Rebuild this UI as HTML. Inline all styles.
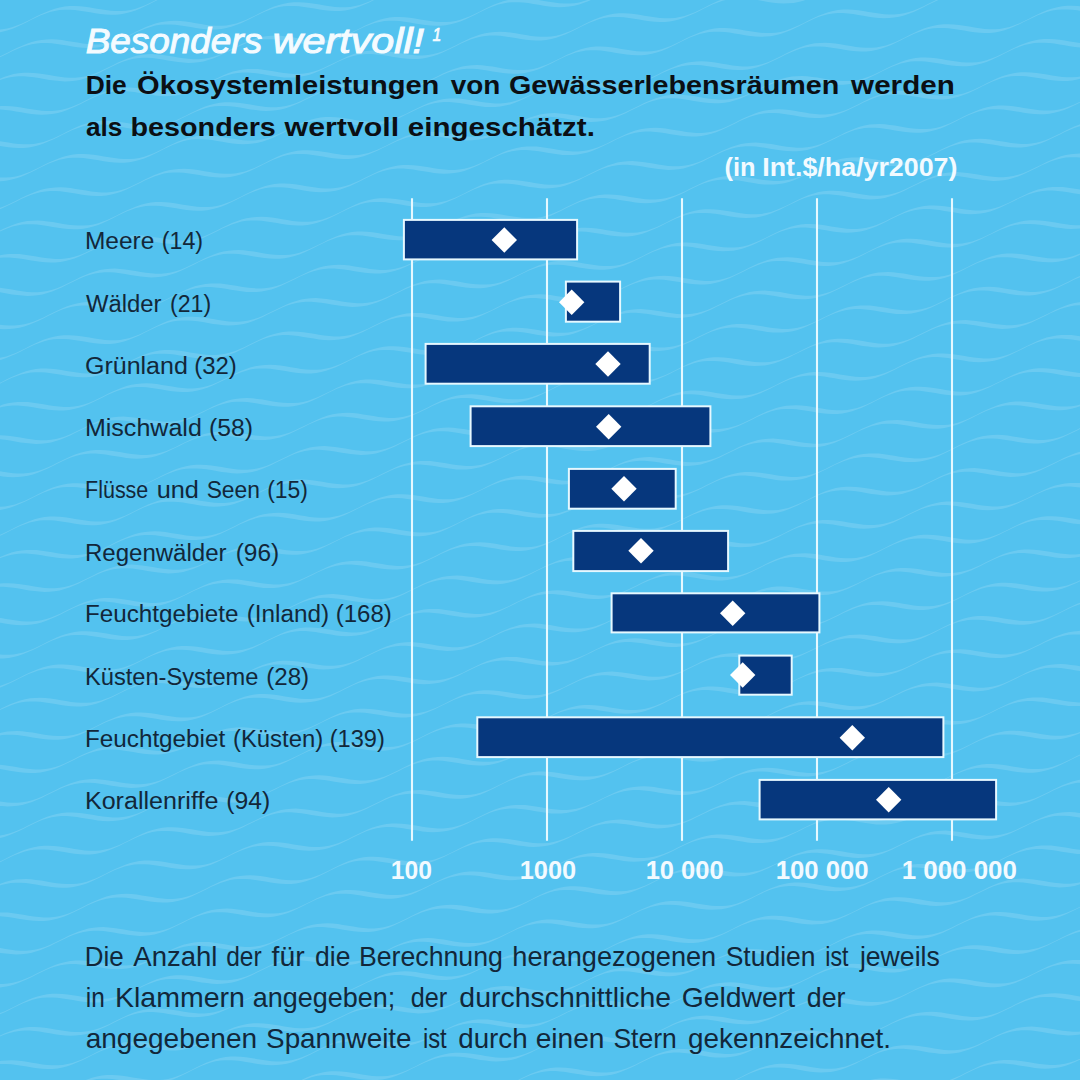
<!DOCTYPE html>
<html><head><meta charset="utf-8"><title>Besonders wertvoll</title>
<style>
html,body{margin:0;padding:0;background:#53C2EF;}
body{width:1080px;height:1080px;overflow:hidden;font-family:"Liberation Sans",sans-serif;}
svg{display:block}
text{font-family:"Liberation Sans",sans-serif;}
</style></head><body>
<svg width="1080" height="1080" viewBox="0 0 1080 1080">
<defs><path id="wv" d="M-157.3 28.5 L-152.3 28.1 L-147.4 27.3 L-142.6 26.1 L-137.8 24.5 L-133.0 22.6 L-128.3 20.4 L-123.6 18.1 L-118.9 15.7 L-114.2 13.4 L-109.4 11.3 L-104.7 9.3 L-99.8 7.7 L-94.9 6.4 L-90.0 5.5 L-84.9 5.0 L-79.9 4.9 L-74.7 5.2 L-69.6 5.7 L-64.4 6.4 L-59.2 7.3 L-54.0 8.2 L-48.9 9.0 L-43.8 9.6 L-38.7 10.0 L-33.7 10.0 L-28.7 9.6 L-23.8 8.8 L-19.0 7.6 L-14.2 6.0 L-9.4 4.0 L-4.7 1.9 L0.0 -0.5 L4.7 -2.8 L9.4 -5.1 L14.2 -7.3 L19.0 -9.2 L23.8 -10.9 L28.7 -12.2 L33.7 -13.1 L38.7 -13.5 L43.8 -13.6 L48.9 -13.4 L54.0 -12.8 L59.2 -12.1 L64.4 -11.2 L69.6 -10.3 L74.7 -9.5 L79.9 -8.9 L84.9 -8.6 L90.0 -8.6 L94.9 -9.0 L99.8 -9.8 L104.7 -11.0 L109.4 -12.6 L114.2 -14.5 L118.9 -16.7 L123.6 -19.0 L128.3 -21.4 L133.0 -23.7 L137.8 -25.8 L142.6 -27.8 L147.4 -29.4 L152.3 -30.7 L157.3 -31.6 L162.3 -32.1 L167.4 -32.2 L172.5 -31.9 L177.7 -31.4 L182.8 -30.6 L188.0 -29.8 L193.2 -28.9 L198.4 -28.1 L203.5 -27.5 L208.5 -27.1 L213.6 -27.1 L218.5 -27.5 L223.4 -28.3 L228.3 -29.5 L233.1 -31.1 L237.8 -33.0 L242.5 -35.2 L247.2 -37.5 L251.9 -39.9 L256.7 -42.2 L261.4 -44.4 L266.2 -46.3 L271.0 -48.0 L275.9 -49.2 L280.9 -50.1 L285.9 -50.6 L291.0 -50.7 L296.1 -50.5 L301.3 -49.9 L306.4 -49.2 L311.6 -48.3 L316.8 -47.4 L322.0 -46.6 L327.1 -46.0 L332.2 -45.7 L337.2 -45.7 L342.1 -46.1 L347.0 -46.9 L351.9 -48.1 L356.7 -49.7 L361.4 -51.6 L366.1 -53.8 L370.9 -56.1 L375.6 -58.4 L380.3 -60.7 L385.0 -62.9 L389.8 -64.9 L394.7 -66.5 L399.6 -67.8 L404.5 -68.7 L409.5 -69.2 L414.6 -69.3 L419.7 -69.0 L424.9 -68.5 L430.1 -67.7 L435.3 -66.9 L440.4 -66.0 L445.6 -65.2 L450.7 -64.6 L455.8 -64.2 L460.8 -64.2 L465.8 -64.6 L470.7 -65.4 L475.5 -66.6 L480.3 -68.2 L485.0 -70.1 L489.8 -72.3 L494.5 -74.6 L499.2 -77.0 L503.9 -79.3 L508.6 -81.5 L513.4 -83.4 L518.3 -85.0 L523.2 -86.3 L528.1 -87.2 L533.2 -87.7 L538.2 -87.8 L543.3 -87.6 L548.5 -87.0 L553.7 -86.3 L558.9 -85.4 L564.0 -84.5 L569.2 -83.7 L574.3 -83.1 L579.4 -82.8 L584.4 -82.8 L589.4 -83.1 L594.3 -83.9 L599.1 -85.2 L603.9 -86.8 L608.7 -88.7 L613.4 -90.8 L618.1 -93.2 L622.8 -95.5 L627.5 -97.8 L632.3 -100.0 L637.0 -101.9 L641.9 -103.6 L646.8 -104.9 L651.8 -105.8 L656.8 -106.3 L661.8 -106.4 L667.0 -106.1 L672.1 -105.6 L677.3 -104.8 L682.5 -103.9 L687.7 -103.1 L692.8 -102.3 L697.9 -101.6 L703.0 -101.3 L708.0 -101.3 L713.0 -101.7 L717.9 -102.5 L722.7 -103.7 L727.5 -105.3 L732.3 -107.2 L737.0 -109.4 L741.7 -111.7 L746.4 -114.1 L751.1 -116.4 L755.9 -118.5 L760.7 -120.5 L765.5 -122.1 L770.4 -123.4 L775.4 -124.3 L780.4 -124.8 L785.5 -124.9 L790.6 -124.6 L795.7 -124.1 L800.9 -123.4 L806.1 -122.5 L811.3 -121.6 L816.4 -120.8 L821.6 -120.2 L826.6 -119.8 L831.7 -119.8 L836.6 -120.2 L841.5 -121.0 L846.4 -122.2 L851.1 -123.8 L855.9 -125.8 L860.6 -127.9 L865.3 -130.2 L870.0 -132.6 L874.7 -134.9 L879.5 -137.1 L884.3 -139.0 L889.1 -140.7 L894.0 -142.0 L899.0 -142.9 L904.0 -143.3 L909.1 -143.4 L914.2 -143.2 L919.4 -142.6 L924.5 -141.9 L929.7 -141.0 L934.9 -140.1 L940.1 -139.3 L945.2 -138.7 L950.3 -138.4 L955.3 -138.4 L960.2 -138.8 L965.1 -139.6 L970.0 -140.8 L974.8 -142.4 L979.5 -144.3 L984.2 -146.5 L988.9 -148.8 L993.6 -151.2 L998.4 -153.5 L1003.1 -155.6 L1007.9 -157.6 L1012.7 -159.2 L1017.6 -160.5 L1022.6 -161.4 L1027.6 -161.9 L1032.7 -162.0 L1037.8 -161.7 L1043.0 -161.2 L1048.2 -160.4 L1053.3 -159.6 L1058.5 -158.7 L1063.7 -157.9 L1068.8 -157.3 L1073.9 -156.9 L1078.9 -156.9 L1083.8 -157.3 L1088.7 -158.1 L1093.6 -159.3 L1098.4 -160.9 L1103.1 -162.8 L1107.8 -165.0 L1112.6 -167.3 L1117.3 -169.7 L1122.0 -172.0 L1126.7 -174.2 L1131.5 -176.1 L1136.4 -177.8 L1141.3 -179.0 L1146.2 -179.9 L1151.2 -180.4 L1156.3 -180.5 L1161.4 -180.3 L1166.6 -179.7 L1171.8 -179.0 L1177.0 -178.1 L1182.1 -177.2 L1187.3 -176.4 L1192.4 -175.8 L1197.5 -175.5 L1202.5 -175.5 L1207.5 -175.9 L1212.4 -176.7 L1217.2 -177.9 L1222.0 -179.5 L1226.7 -181.4 L1231.5 -183.6 L1236.2 -185.9 L1240.9 -188.2 L1245.6 -190.5 L1250.3 -192.7 L1255.1 -194.7 L1260.0 -196.3 L1264.9 -197.6 L1269.8 -198.5 L1274.9 -199.0 L1279.9 -199.1 L1285.1 -198.8 L1290.2 -198.3 L1295.4 -197.5 L1300.6 -196.7 L1305.8 -195.8 L1310.9 -195.0 L1316.0 -194.4 L1321.1 -194.0 L1326.1 -194.0 L1331.1 -194.4 L1331.1 -191.8 L1326.1 -190.9 L1321.1 -190.4 L1316.0 -190.3 L1310.9 -190.6 L1305.8 -191.1 L1300.6 -191.9 L1295.4 -192.7 L1290.2 -193.6 L1285.1 -194.4 L1279.9 -195.0 L1274.9 -195.4 L1269.8 -195.4 L1264.9 -195.0 L1260.0 -194.2 L1255.1 -193.0 L1250.3 -191.4 L1245.6 -189.5 L1240.9 -187.3 L1236.2 -185.0 L1231.5 -182.6 L1226.7 -180.3 L1222.0 -178.1 L1217.2 -176.2 L1212.4 -174.5 L1207.5 -173.3 L1202.5 -172.4 L1197.5 -171.9 L1192.4 -171.8 L1187.3 -172.0 L1182.1 -172.6 L1177.0 -173.3 L1171.8 -174.2 L1166.6 -175.1 L1161.4 -175.9 L1156.3 -176.5 L1151.2 -176.8 L1146.2 -176.8 L1141.3 -176.5 L1136.4 -175.6 L1131.5 -174.4 L1126.7 -172.8 L1122.0 -170.9 L1117.3 -168.8 L1112.6 -166.4 L1107.8 -164.1 L1103.1 -161.8 L1098.4 -159.6 L1093.6 -157.6 L1088.7 -156.0 L1083.8 -154.7 L1078.9 -153.8 L1073.9 -153.3 L1068.8 -153.2 L1063.7 -153.5 L1058.5 -154.0 L1053.3 -154.8 L1048.2 -155.7 L1043.0 -156.5 L1037.8 -157.3 L1032.7 -158.0 L1027.6 -158.3 L1022.6 -158.3 L1017.6 -157.9 L1012.7 -157.1 L1007.9 -155.9 L1003.1 -154.3 L998.4 -152.4 L993.6 -150.2 L988.9 -147.9 L984.2 -145.5 L979.5 -143.2 L974.8 -141.0 L970.0 -139.1 L965.1 -137.5 L960.2 -136.2 L955.3 -135.3 L950.3 -134.8 L945.2 -134.7 L940.1 -134.9 L934.9 -135.5 L929.7 -136.2 L924.5 -137.1 L919.4 -138.0 L914.2 -138.8 L909.1 -139.4 L904.0 -139.8 L899.0 -139.8 L894.0 -139.4 L889.1 -138.6 L884.3 -137.4 L879.5 -135.8 L874.7 -133.8 L870.0 -131.7 L865.3 -129.3 L860.6 -127.0 L855.9 -124.7 L851.1 -122.5 L846.4 -120.6 L841.5 -118.9 L836.6 -117.6 L831.7 -116.7 L826.6 -116.3 L821.6 -116.2 L816.4 -116.4 L811.3 -116.9 L806.1 -117.7 L800.9 -118.6 L795.7 -119.5 L790.6 -120.3 L785.5 -120.9 L780.4 -121.2 L775.4 -121.2 L770.4 -120.8 L765.5 -120.0 L760.7 -118.8 L755.9 -117.2 L751.1 -115.3 L746.4 -113.1 L741.7 -110.8 L737.0 -108.4 L732.3 -106.1 L727.5 -104.0 L722.7 -102.0 L717.9 -100.4 L713.0 -99.1 L708.0 -98.2 L703.0 -97.7 L697.9 -97.6 L692.8 -97.9 L687.7 -98.4 L682.5 -99.2 L677.3 -100.0 L672.1 -100.9 L667.0 -101.7 L661.8 -102.3 L656.8 -102.7 L651.8 -102.7 L646.8 -102.3 L641.9 -101.5 L637.0 -100.3 L632.3 -98.7 L627.5 -96.8 L622.8 -94.6 L618.1 -92.3 L613.4 -89.9 L608.7 -87.6 L603.9 -85.4 L599.1 -83.5 L594.3 -81.8 L589.4 -80.6 L584.4 -79.7 L579.4 -79.2 L574.3 -79.1 L569.2 -79.3 L564.0 -79.9 L558.9 -80.6 L553.7 -81.5 L548.5 -82.4 L543.3 -83.2 L538.2 -83.8 L533.2 -84.1 L528.1 -84.1 L523.2 -83.7 L518.3 -82.9 L513.4 -81.7 L508.6 -80.1 L503.9 -78.2 L499.2 -76.0 L494.5 -73.7 L489.8 -71.4 L485.0 -69.0 L480.3 -66.9 L475.5 -64.9 L470.7 -63.3 L465.8 -62.0 L460.8 -61.1 L455.8 -60.6 L450.7 -60.5 L445.6 -60.8 L440.4 -61.3 L435.3 -62.1 L430.1 -62.9 L424.9 -63.8 L419.7 -64.6 L414.6 -65.2 L409.5 -65.6 L404.5 -65.6 L399.6 -65.2 L394.7 -64.4 L389.8 -63.2 L385.0 -61.6 L380.3 -59.7 L375.6 -57.5 L370.9 -55.2 L366.1 -52.8 L361.4 -50.5 L356.7 -48.3 L351.9 -46.4 L347.0 -44.7 L342.1 -43.5 L337.2 -42.6 L332.2 -42.1 L327.1 -42.0 L322.0 -42.2 L316.8 -42.8 L311.6 -43.5 L306.4 -44.4 L301.3 -45.3 L296.1 -46.1 L291.0 -46.7 L285.9 -47.0 L280.9 -47.0 L275.9 -46.7 L271.0 -45.9 L266.2 -44.6 L261.4 -43.0 L256.7 -41.1 L251.9 -39.0 L247.2 -36.6 L242.5 -34.3 L237.8 -32.0 L233.1 -29.8 L228.3 -27.8 L223.4 -26.2 L218.5 -24.9 L213.6 -24.0 L208.5 -23.5 L203.5 -23.4 L198.4 -23.7 L193.2 -24.2 L188.0 -25.0 L182.8 -25.9 L177.7 -26.7 L172.5 -27.5 L167.4 -28.2 L162.3 -28.5 L157.3 -28.5 L152.3 -28.1 L147.4 -27.3 L142.6 -26.1 L137.8 -24.5 L133.0 -22.6 L128.3 -20.4 L123.6 -18.1 L118.9 -15.7 L114.2 -13.4 L109.4 -11.3 L104.7 -9.3 L99.8 -7.7 L94.9 -6.4 L90.0 -5.5 L84.9 -5.0 L79.9 -4.9 L74.7 -5.2 L69.6 -5.7 L64.4 -6.4 L59.2 -7.3 L54.0 -8.2 L48.9 -9.0 L43.8 -9.6 L38.7 -10.0 L33.7 -10.0 L28.7 -9.6 L23.8 -8.8 L19.0 -7.6 L14.2 -6.0 L9.4 -4.0 L4.7 -1.9 L0.0 0.5 L-4.7 2.8 L-9.4 5.1 L-14.2 7.3 L-19.0 9.2 L-23.8 10.9 L-28.7 12.2 L-33.7 13.1 L-38.7 13.5 L-43.8 13.6 L-48.9 13.4 L-54.0 12.8 L-59.2 12.1 L-64.4 11.2 L-69.6 10.3 L-74.7 9.5 L-79.9 8.9 L-84.9 8.6 L-90.0 8.6 L-94.9 9.0 L-99.8 9.8 L-104.7 11.0 L-109.4 12.6 L-114.2 14.5 L-118.9 16.7 L-123.6 19.0 L-128.3 21.4 L-133.0 23.7 L-137.8 25.8 L-142.6 27.8 L-147.4 29.4 L-152.3 30.7 L-157.3 31.6Z"/></defs>
<rect width="1080" height="1080" fill="#53C2EF"/>
<g fill="#ffffff" fill-opacity="0.14">
<use href="#wv" x="-92.7" y="38.2"/>
<use href="#wv" x="-115.7" y="71.5"/>
<use href="#wv" x="-15.1" y="86.3"/>
<use href="#wv" x="-38.1" y="119.6"/>
<use href="#wv" x="-61.1" y="152.9"/>
<use href="#wv" x="-84.1" y="186.2"/>
<use href="#wv" x="-107.1" y="219.5"/>
<use href="#wv" x="-6.5" y="234.2"/>
<use href="#wv" x="-29.5" y="267.5"/>
<use href="#wv" x="-52.5" y="300.8"/>
<use href="#wv" x="-75.5" y="334.1"/>
<use href="#wv" x="-98.5" y="367.4"/>
<use href="#wv" x="-121.5" y="400.7"/>
<use href="#wv" x="-20.9" y="415.5"/>
<use href="#wv" x="-43.9" y="448.8"/>
<use href="#wv" x="-66.9" y="482.1"/>
<use href="#wv" x="-89.9" y="515.4"/>
<use href="#wv" x="-112.9" y="548.7"/>
<use href="#wv" x="-12.3" y="563.5"/>
<use href="#wv" x="-35.3" y="596.8"/>
<use href="#wv" x="-58.3" y="630.1"/>
<use href="#wv" x="-81.3" y="663.4"/>
<use href="#wv" x="-104.3" y="696.7"/>
<use href="#wv" x="-3.6" y="711.4"/>
<use href="#wv" x="-26.6" y="744.7"/>
<use href="#wv" x="-49.6" y="778.0"/>
<use href="#wv" x="-72.6" y="811.3"/>
<use href="#wv" x="-95.6" y="844.6"/>
<use href="#wv" x="-118.6" y="877.9"/>
<use href="#wv" x="-18.0" y="892.7"/>
<use href="#wv" x="-41.0" y="926.0"/>
<use href="#wv" x="-64.0" y="959.3"/>
<use href="#wv" x="-87.0" y="992.6"/>
<use href="#wv" x="-110.0" y="1025.9"/>
<use href="#wv" x="-9.4" y="1040.6"/>
<use href="#wv" x="-32.4" y="1073.9"/>
<use href="#wv" x="-55.4" y="1107.2"/>
<use href="#wv" x="-78.4" y="1140.5"/>
<use href="#wv" x="-101.4" y="1173.8"/>
<use href="#wv" x="-0.8" y="1188.6"/>
<use href="#wv" x="-23.8" y="1221.9"/>
<use href="#wv" x="-46.8" y="1255.2"/>
</g>
<g stroke="#E6F8FF" stroke-width="2.1">
<line x1="412" y1="198.3" x2="412" y2="840.7"/>
<line x1="547" y1="198.3" x2="547" y2="840.7"/>
<line x1="682" y1="198.3" x2="682" y2="840.7"/>
<line x1="817" y1="198.3" x2="817" y2="840.7"/>
<line x1="952" y1="198.3" x2="952" y2="840.7"/>
</g>
<g fill="#06377D" stroke="#E6F8FF" stroke-width="2">
<rect x="403.90" y="219.90" width="173.20" height="39.50"/>
<rect x="565.90" y="281.60" width="54.20" height="40.10"/>
<rect x="425.60" y="343.90" width="224.10" height="39.80"/>
<rect x="470.60" y="406.30" width="239.80" height="39.80"/>
<rect x="568.90" y="468.90" width="106.80" height="39.80"/>
<rect x="573.30" y="530.90" width="154.80" height="40.20"/>
<rect x="611.60" y="593.30" width="207.80" height="39.10"/>
<rect x="739.30" y="655.60" width="52.40" height="39.10"/>
<rect x="477.30" y="717.30" width="466.10" height="39.80"/>
<rect x="759.60" y="779.90" width="236.50" height="39.50"/>
</g>
<g fill="#ffffff">
<path d="M491.6 240.0L504.3 227.3L517.0 240.0L504.3 252.7Z"/>
<path d="M559.0 302.3L571.7 289.6L584.4 302.3L571.7 315.0Z"/>
<path d="M595.3 364.0L608.0 351.3L620.7 364.0L608.0 376.7Z"/>
<path d="M596.0 426.7L608.7 414.0L621.4 426.7L608.7 439.4Z"/>
<path d="M611.3 488.7L624.0 476.0L636.7 488.7L624.0 501.4Z"/>
<path d="M628.3 550.7L641.0 538.0L653.7 550.7L641.0 563.4Z"/>
<path d="M720.0 613.3L732.7 600.6L745.4 613.3L732.7 626.0Z"/>
<path d="M730.0 675.0L742.7 662.3L755.4 675.0L742.7 687.7Z"/>
<path d="M839.6 737.7L852.3 725.0L865.0 737.7L852.3 750.4Z"/>
<path d="M876.0 799.7L888.7 787.0L901.4 799.7L888.7 812.4Z"/>
</g>
<text x="85.65" y="52.5" font-size="35" font-style="italic" fill="#F4FBFF" stroke="#F4FBFF" stroke-width="1.0" textLength="176.48" lengthAdjust="spacingAndGlyphs">Besonders</text>
<text x="272.82" y="52.5" font-size="35" font-style="italic" fill="#F4FBFF" stroke="#F4FBFF" stroke-width="1.0" textLength="151.25" lengthAdjust="spacingAndGlyphs">wertvoll!</text>
<text x="432.50" y="40.6" font-size="19" font-style="italic" fill="#F4FBFF" stroke="#F4FBFF" stroke-width="0.7" textLength="8.81" lengthAdjust="spacingAndGlyphs">1</text>
<text x="85.71" y="94.3" font-size="26.6" font-weight="bold" fill="#0B0F14"  textLength="41.08" lengthAdjust="spacingAndGlyphs">Die</text>
<text x="137.11" y="94.3" font-size="26.6" font-weight="bold" fill="#0B0F14"  textLength="302.25" lengthAdjust="spacingAndGlyphs">Ökosystemleistungen</text>
<text x="450.70" y="94.3" font-size="26.6" font-weight="bold" fill="#0B0F14"  textLength="49.61" lengthAdjust="spacingAndGlyphs">von</text>
<text x="508.92" y="94.3" font-size="26.6" font-weight="bold" fill="#0B0F14"  textLength="330.42" lengthAdjust="spacingAndGlyphs">Gewässerlebensräumen</text>
<text x="851.11" y="94.3" font-size="26.6" font-weight="bold" fill="#0B0F14"  textLength="103.67" lengthAdjust="spacingAndGlyphs">werden</text>
<text x="86.00" y="136.3" font-size="26.6" font-weight="bold" fill="#0B0F14"  textLength="36.38" lengthAdjust="spacingAndGlyphs">als</text>
<text x="130.52" y="136.3" font-size="26.6" font-weight="bold" fill="#0B0F14"  textLength="145.33" lengthAdjust="spacingAndGlyphs">besonders</text>
<text x="284.64" y="136.3" font-size="26.6" font-weight="bold" fill="#0B0F14"  textLength="114.44" lengthAdjust="spacingAndGlyphs">wertvoll</text>
<text x="407.89" y="136.3" font-size="26.6" font-weight="bold" fill="#0B0F14"  textLength="187.05" lengthAdjust="spacingAndGlyphs">eingeschätzt.</text>
<text x="724.59" y="176.2" font-size="25.3" font-weight="bold" fill="#F2FAFF"  textLength="31.07" lengthAdjust="spacingAndGlyphs">(in</text>
<text x="762.24" y="176.2" font-size="25.3" font-weight="bold" fill="#F2FAFF"  textLength="195.21" lengthAdjust="spacingAndGlyphs">Int.$/ha/yr2007)</text>
<text x="84.96" y="249.4" font-size="23.5" fill="#12273A"  textLength="69.41" lengthAdjust="spacingAndGlyphs">Meere</text>
<text x="161.71" y="249.4" font-size="23.5" fill="#12273A"  textLength="41.41" lengthAdjust="spacingAndGlyphs">(14)</text>
<text x="86.00" y="311.7" font-size="23.5" fill="#12273A"  textLength="75.52" lengthAdjust="spacingAndGlyphs">Wälder</text>
<text x="170.02" y="311.7" font-size="23.5" fill="#12273A"  textLength="41.10" lengthAdjust="spacingAndGlyphs">(21)</text>
<text x="84.94" y="374" font-size="23.5" fill="#12273A"  textLength="102.90" lengthAdjust="spacingAndGlyphs">Grünland</text>
<text x="194.28" y="374" font-size="23.5" fill="#12273A"  textLength="42.56" lengthAdjust="spacingAndGlyphs">(32)</text>
<text x="84.93" y="436" font-size="23.5" fill="#12273A"  textLength="116.91" lengthAdjust="spacingAndGlyphs">Mischwald</text>
<text x="208.95" y="436" font-size="23.5" fill="#12273A"  textLength="43.92" lengthAdjust="spacingAndGlyphs">(58)</text>
<text x="85.09" y="498" font-size="23.5" fill="#12273A"  textLength="63.18" lengthAdjust="spacingAndGlyphs">Flüsse</text>
<text x="156.72" y="498" font-size="23.5" fill="#12273A"  textLength="42.23" lengthAdjust="spacingAndGlyphs">und</text>
<text x="206.63" y="498" font-size="23.5" fill="#12273A"  textLength="53.21" lengthAdjust="spacingAndGlyphs">Seen</text>
<text x="267.22" y="498" font-size="23.5" fill="#12273A"  textLength="40.78" lengthAdjust="spacingAndGlyphs">(15)</text>
<text x="84.98" y="560.6" font-size="23.5" fill="#12273A"  textLength="141.54" lengthAdjust="spacingAndGlyphs">Regenwälder</text>
<text x="235.66" y="560.6" font-size="23.5" fill="#12273A"  textLength="43.50" lengthAdjust="spacingAndGlyphs">(96)</text>
<text x="84.97" y="622.3" font-size="23.5" fill="#12273A"  textLength="153.40" lengthAdjust="spacingAndGlyphs">Feuchtgebiete</text>
<text x="246.66" y="622.3" font-size="23.5" fill="#12273A"  textLength="82.49" lengthAdjust="spacingAndGlyphs">(Inland)</text>
<text x="335.68" y="622.3" font-size="23.5" fill="#12273A"  textLength="56.17" lengthAdjust="spacingAndGlyphs">(168)</text>
<text x="84.99" y="685" font-size="23.5" fill="#12273A"  textLength="173.38" lengthAdjust="spacingAndGlyphs">Küsten-Systeme</text>
<text x="266.27" y="685" font-size="23.5" fill="#12273A"  textLength="42.87" lengthAdjust="spacingAndGlyphs">(28)</text>
<text x="84.97" y="747" font-size="23.5" fill="#12273A"  textLength="140.25" lengthAdjust="spacingAndGlyphs">Feuchtgebiet</text>
<text x="232.98" y="747" font-size="23.5" fill="#12273A"  textLength="90.15" lengthAdjust="spacingAndGlyphs">(Küsten)</text>
<text x="329.69" y="747" font-size="23.5" fill="#12273A"  textLength="55.13" lengthAdjust="spacingAndGlyphs">(139)</text>
<text x="84.93" y="809" font-size="23.5" fill="#12273A"  textLength="133.44" lengthAdjust="spacingAndGlyphs">Korallenriffe</text>
<text x="226.25" y="809" font-size="23.5" fill="#12273A"  textLength="43.92" lengthAdjust="spacingAndGlyphs">(94)</text>
<text x="390.73" y="879.3" font-size="25.5" font-weight="bold" fill="#F2FAFF"  textLength="41.14" lengthAdjust="spacingAndGlyphs">100</text>
<text x="519.70" y="879.3" font-size="25.5" font-weight="bold" fill="#F2FAFF"  textLength="56.48" lengthAdjust="spacingAndGlyphs">1000</text>
<text x="645.70" y="879.3" font-size="25.5" font-weight="bold" fill="#F2FAFF"  textLength="77.88" lengthAdjust="spacingAndGlyphs">10 000</text>
<text x="775.69" y="879.3" font-size="25.5" font-weight="bold" fill="#F2FAFF"  textLength="92.89" lengthAdjust="spacingAndGlyphs">100 000</text>
<text x="901.68" y="879.3" font-size="25.5" font-weight="bold" fill="#F2FAFF"  textLength="115.20" lengthAdjust="spacingAndGlyphs">1 000 000</text>
<text x="84.79" y="965.7" font-size="27.2" fill="#12273A"  textLength="38.98" lengthAdjust="spacingAndGlyphs">Die</text>
<text x="133.30" y="965.7" font-size="27.2" fill="#12273A"  textLength="84.15" lengthAdjust="spacingAndGlyphs">Anzahl</text>
<text x="226.20" y="965.7" font-size="27.2" fill="#12273A"  textLength="35.45" lengthAdjust="spacingAndGlyphs">der</text>
<text x="271.60" y="965.7" font-size="27.2" fill="#12273A"  textLength="32.96" lengthAdjust="spacingAndGlyphs">für</text>
<text x="315.03" y="965.7" font-size="27.2" fill="#12273A"  textLength="35.37" lengthAdjust="spacingAndGlyphs">die</text>
<text x="358.94" y="965.7" font-size="27.2" fill="#12273A"  textLength="143.96" lengthAdjust="spacingAndGlyphs">Berechnung</text>
<text x="512.30" y="965.7" font-size="27.2" fill="#12273A"  textLength="203.92" lengthAdjust="spacingAndGlyphs">herangezogenen</text>
<text x="725.73" y="965.7" font-size="27.2" fill="#12273A"  textLength="89.76" lengthAdjust="spacingAndGlyphs">Studien</text>
<text x="825.35" y="965.7" font-size="27.2" fill="#12273A"  textLength="23.17" lengthAdjust="spacingAndGlyphs">ist</text>
<text x="859.88" y="965.7" font-size="27.2" fill="#12273A"  textLength="79.90" lengthAdjust="spacingAndGlyphs">jeweils</text>
<text x="85.80" y="1006.8" font-size="27.2" fill="#12273A"  textLength="19.00" lengthAdjust="spacingAndGlyphs">in</text>
<text x="115.00" y="1006.8" font-size="27.2" fill="#12273A"  textLength="129.97" lengthAdjust="spacingAndGlyphs">Klammern</text>
<text x="252.81" y="1006.8" font-size="27.2" fill="#12273A"  textLength="142.53" lengthAdjust="spacingAndGlyphs">angegeben;</text>
<text x="410.67" y="1006.8" font-size="27.2" fill="#12273A"  textLength="36.48" lengthAdjust="spacingAndGlyphs">der</text>
<text x="459.35" y="1006.8" font-size="27.2" fill="#12273A"  textLength="211.82" lengthAdjust="spacingAndGlyphs">durchschnittliche</text>
<text x="681.66" y="1006.8" font-size="27.2" fill="#12273A"  textLength="113.48" lengthAdjust="spacingAndGlyphs">Geldwert</text>
<text x="806.81" y="1006.8" font-size="27.2" fill="#12273A"  textLength="38.74" lengthAdjust="spacingAndGlyphs">der</text>
<text x="85.67" y="1048" font-size="27.2" fill="#12273A"  textLength="171.49" lengthAdjust="spacingAndGlyphs">angegebenen</text>
<text x="266.08" y="1048" font-size="27.2" fill="#12273A"  textLength="145.47" lengthAdjust="spacingAndGlyphs">Spannweite</text>
<text x="422.93" y="1048" font-size="27.2" fill="#12273A"  textLength="23.78" lengthAdjust="spacingAndGlyphs">ist</text>
<text x="458.28" y="1048" font-size="27.2" fill="#12273A"  textLength="69.36" lengthAdjust="spacingAndGlyphs">durch</text>
<text x="535.67" y="1048" font-size="27.2" fill="#12273A"  textLength="68.79" lengthAdjust="spacingAndGlyphs">einen</text>
<text x="613.43" y="1048" font-size="27.2" fill="#12273A"  textLength="63.26" lengthAdjust="spacingAndGlyphs">Stern</text>
<text x="687.98" y="1048" font-size="27.2" fill="#12273A"  textLength="202.92" lengthAdjust="spacingAndGlyphs">gekennzeichnet.</text>
</svg></body></html>
